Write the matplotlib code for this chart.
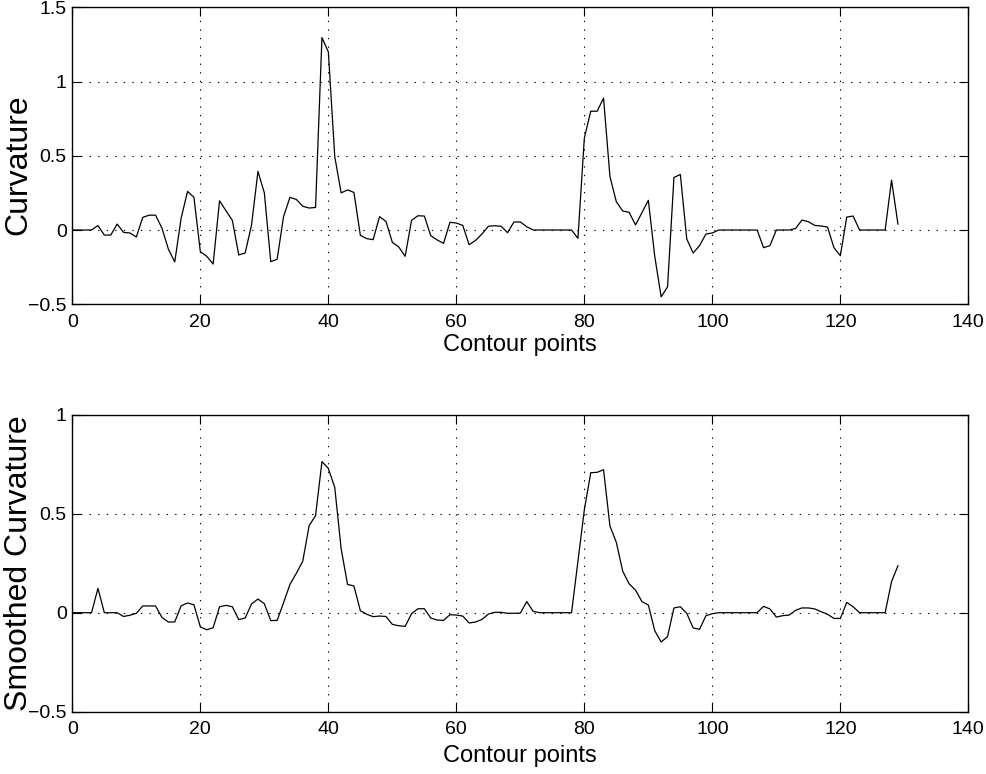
import matplotlib
matplotlib.use('Agg')
import matplotlib.pyplot as plt
import numpy as np

plt.rcParams['font.family'] = ['Liberation Sans', 'DejaVu Sans']

# raw curvature along the contour, points 0..129
curvature = [
    0, 0, 0, 0, 0.03, -0.034, -0.034, 0.04, -0.016, -0.02,
    -0.047, 0.085, 0.10, 0.10, 0.013, -0.128, -0.215, 0.08, 0.26, 0.22,
    -0.146, -0.177, -0.229, 0.197, 0.13, 0.065, -0.168, -0.155, 0.034, 0.395,
    0.25, -0.213, -0.197, 0.09, 0.22, 0.206, 0.16, 0.148, 0.152, 1.296,
    1.20, 0.495, 0.25, 0.27, 0.253, -0.036, -0.058, -0.065, 0.09, 0.058,
    -0.083, -0.114, -0.177, 0.065, 0.096, 0.094, -0.038, -0.067, -0.09, 0.052,
    0.047, 0.031, -0.099, -0.07, -0.027, 0.025, 0.029, 0.025, -0.018, 0.054,
    0.054, 0.022, 0, 0, 0, 0, 0, 0, 0, -0.056,
    0.62, 0.80, 0.80, 0.888, 0.36, 0.19, 0.128, 0.119, 0.034, 0.117,
    0.20, -0.177, -0.45, -0.383, 0.354, 0.374, -0.06, -0.155, -0.105, -0.027,
    -0.02, 0, 0, 0, 0, 0, 0, 0, -0.119, -0.105,
    0, 0, 0, 0.01, 0.067, 0.056, 0.031, 0.027, 0.02, -0.119,
    -0.173, 0.087, 0.094, 0, 0, 0, 0, 0, 0.336, 0.04,
]

# smoothed curvature, same points
smoothed = [
    0, 0, 0, 0, 0.123, 0, 0, 0, -0.019, -0.013,
    -0.003, 0.034, 0.034, 0.034, -0.024, -0.047, -0.047, 0.035, 0.049, 0.04,
    -0.072, -0.086, -0.076, 0.03, 0.037, 0.03, -0.035, -0.027, 0.044, 0.069,
    0.045, -0.04, -0.039, 0.05, 0.143, 0.199, 0.26, 0.44, 0.49, 0.763,
    0.729, 0.633, 0.323, 0.143, 0.135, 0.01, -0.008, -0.02, -0.017, -0.019,
    -0.059, -0.066, -0.069, -0.005, 0.02, 0.02, -0.027, -0.037, -0.039, -0.01,
    -0.012, -0.017, -0.052, -0.047, -0.034, -0.007, 0.002, 0.002, -0.003, -0.003,
    -0.002, 0.056, 0.007, 0, 0, 0, 0, 0, 0, 0.26,
    0.52, 0.707, 0.709, 0.722, 0.438, 0.355, 0.209, 0.146, 0.114, 0.056,
    0.039, -0.091, -0.148, -0.121, 0.024, 0.03, -0.003, -0.077, -0.084, -0.015,
    -0.005, 0, 0, 0, 0, 0, 0, 0, 0.032, 0.019,
    -0.022, -0.015, -0.012, 0.012, 0.024, 0.024, 0.019, 0.005, -0.008, -0.029,
    -0.029, 0.052, 0.03, 0, 0, 0, 0, 0, 0.157, 0.237,
]

points = np.arange(len(curvature))

xticks = [0, 20, 40, 60, 80, 100, 120, 140]
top_yticks = [-0.5, 0, 0.5, 1, 1.5]
top_ylabels = ['\u22120.5', '0', '0.5', '1', '1.5']
bot_yticks = [-0.5, 0, 0.5, 1]
bot_ylabels = ['\u22120.5', '0', '0.5', '1']


def style_axes(ax, yticks, ylabels, ylim, ylabel, xpad, ycenter):
    ax.set_xlim(0, 140)
    ax.set_ylim(*ylim)
    ax.set_xticks(xticks)
    ax.set_xticklabels([str(t) for t in xticks])
    ax.set_yticks(yticks)
    ax.set_yticklabels(ylabels)
    ax.tick_params(direction='in', length=6.5, width=0.8, top=True, right=True,
                   labelsize=14)
    ax.tick_params(axis='x', pad=7)
    ax.tick_params(axis='y', pad=4)
    ax.grid(True, color='black', linestyle=(0, (1.2, 6.5)), linewidth=0.8)
    for sp in ax.spines.values():
        sp.set_linewidth(1.0)
    ax.set_xlabel('Contour points', fontsize=17, labelpad=xpad)
    ax.set_ylabel(ylabel, fontsize=23)
    ax.yaxis.set_label_coords(-0.043, ycenter)


fig = plt.figure(figsize=(9.87, 7.74), dpi=100)
ax1 = fig.add_axes([0.0733, 0.6069, 0.9078, 0.3837])
ax2 = fig.add_axes([0.0733, 0.0805, 0.9078, 0.3837])

ax1.plot(points, curvature, color='black', linewidth=0.9)
style_axes(ax1, top_yticks, top_ylabels, (-0.5, 1.5), 'Curvature', 2, 0.47)

ax2.plot(points, smoothed, color='black', linewidth=0.9)
style_axes(ax2, bot_yticks, bot_ylabels, (-0.5, 1), 'Smoothed Curvature', 5, 0.5)

fig.savefig('out.png', dpi=100)
